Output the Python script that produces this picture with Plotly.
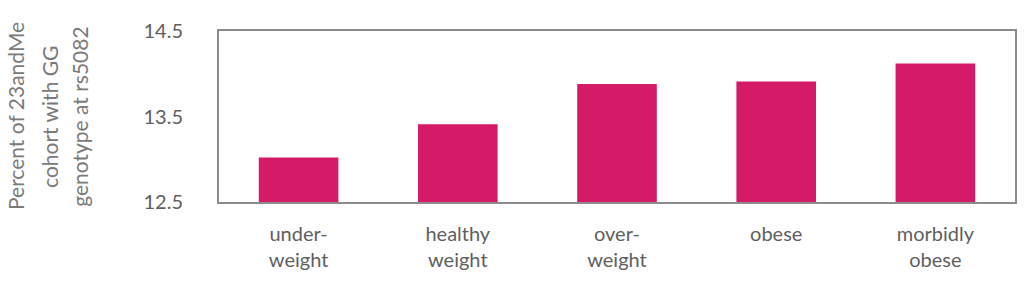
import plotly.graph_objects as go

categories = ["under-<br>weight", "healthy<br>weight", "over-<br>weight", "obese", "morbidly<br>obese"]
values = [13.02, 13.41, 13.88, 13.91, 14.12]
y_ticks = [12.5, 13.5, 14.5]
y_title_lines = ["Percent of 23andMe", "cohort with GG", "genotype at rs5082"]

W, H = 1024, 281
L, R, T, B = 219, 7, 31, 79
plot_w = W - L - R

fig = go.Figure(go.Bar(
    x=categories, y=values,
    marker=dict(color="#D51B67", line=dict(width=0)),
))

fig.update_layout(
    width=W, height=H,
    margin=dict(l=L, r=R, t=T, b=B),
    paper_bgcolor="white", plot_bgcolor="white",
    bargap=0.5,
    showlegend=False,
    font=dict(family="Lato", color="#5f5f5f", size=20),
)
fig.update_xaxes(
    showline=True, linecolor="#8c8c8c", linewidth=2, mirror=True,
    showgrid=False, ticks="outside", ticklen=13, tickcolor="rgba(0,0,0,0)",
    tickfont=dict(size=20, color="#5f5f5f"),
)
fig.update_yaxes(
    range=[12.5, 14.5], tickvals=y_ticks, ticktext=[f"{v:.1f}" for v in y_ticks],
    showline=True, linecolor="#8c8c8c", linewidth=2, mirror=True,
    showgrid=False, zeroline=False,
    ticks="outside", ticklen=30, tickcolor="rgba(0,0,0,0)",
    tickfont=dict(size=20, color="#5f5f5f"),
)

xs = [15, 49, 79]
for px, line in zip(xs, y_title_lines):
    fig.add_annotation(
        text=line, xref="paper", yref="paper",
        x=(px - L) / plot_w, y=0.5, xanchor="center", yanchor="middle",
        textangle=-90, showarrow=False,
        font=dict(size=21, color="#7a7a7a", family="Lato"),
    )

fig.write_html("out.html")
